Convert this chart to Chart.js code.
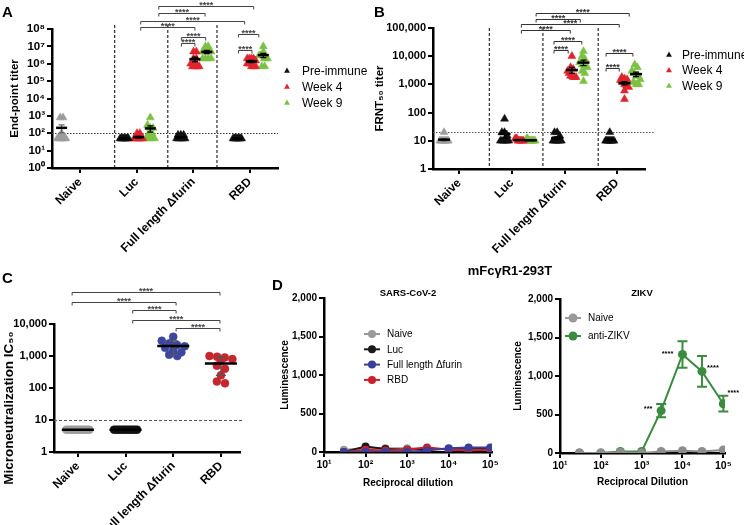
<!DOCTYPE html>
<html lang="es">
<head>
<meta charset="utf-8">
<title>Títulos de anticuerpos</title>
<script src="https://cdn.jsdelivr.net/npm/chart.js@4.4.0/dist/chart.umd.min.js"></script>
<style>
  html, body { margin: 0; padding: 0; background: #fff; }
  #lienzo { position: relative; width: 744px; height: 525px; overflow: hidden; font-family: "Liberation Sans", Arial, sans-serif; }
  #lienzo canvas { position: absolute; }
  #tituloD { position: absolute; left: 440px; top: 263px; width: 140px; text-align: center; font-weight: bold; font-size: 13px; line-height: 15px; }
</style>
</head>
<body>
<div id="lienzo">
  <canvas id="panelA" width="372" height="270" style="left:0;top:0"></canvas>
  <canvas id="panelB" width="372" height="270" style="left:372px;top:0"></canvas>
  <canvas id="panelC" width="250" height="263" style="left:0;top:262px"></canvas>
  <canvas id="panelD1" width="255" height="263" style="left:250px;top:262px"></canvas>
  <canvas id="panelD2" width="249" height="263" style="left:495px;top:262px"></canvas>
  <div id="tituloD">mFcγR1-293T</div>
</div>
<script>
// ---------------- Datos ----------------
const grupos = ['Naive', 'Luc', 'Full length Δfurin', 'RBD'];
const nombresSerie = ['Pre-immune', 'Week 4', 'Week 9'];

// Panel A: título de punto final (Luc, Full length, RBD)
const ticksA = [1, 10, 100, 1e3, 1e4, 1e5, 1e6, 1e7, 1e8];
const etiquetasA = ['10⁰', '10¹', '10²', '10³', '10⁴', '10⁵', '10⁶', '10⁷', '10⁸'];
const aNaive = [800, 800, 100, 50, 50, 50, 50, 50, 50, 50];
const aPreinmune = [
    [50, 50, 50, 50, 50, 50, 50, 50, 50, 50],
    [80, 80, 80, 50, 50, 50, 50, 50, 50, 50],
    [50, 50, 50, 50, 50, 50, 50, 50, 50, 50]
];
const aSemana4 = [
    [100, 100, 50, 50, 50, 50, 50, 50, 50, 50],
    [5e6, 5e6, 2e6, 2e6, 1e6, 7e5, 7e5, 7e5, 7e5, 7e5],
    [2e6, 2e6, 2e6, 2e6, 1.5e6, 1e6, 1e6, 7e5, 7e5, 7e5]
];
const aSemana9 = [
    [800, 300, 200, 200, 100, 100, 50, 50, 50, 50],
    [1e7, 1e7, 5e6, 5e6, 5e6, 5e6, 2e6, 2e6, 2e6, 2e6],
    [1e7, 5e6, 3e6, 3e6, 3e6, 2e6, 2e6, 2e6, 7e5, 7e5]
];
const aCorte = 100;

// Panel B: FRNT50
const ticksB = [1, 10, 100, 1000, 10000, 100000];
const etiquetasB = ['1', '10', '100', '1,000', '10,000', '100,000'];
const bNaive = [20, 10, 10, 10, 10, 10, 10, 10, 10, 10];
const bPreinmune = [
    [60, 20, 20, 15, 10, 10, 10, 10, 10, 10],
    [20, 20, 15, 10, 10, 10, 10, 10, 10, 10],
    [20, 10, 10, 10, 10, 10, 10, 10, 10, 10]
];
const bSemana4 = [
    [12, 12, 12, 10, 10, 10, 10, 10, 10, 10],
    [10000, 4000, 3500, 3000, 2500, 2000, 2000, 1800, 1800, 1800],
    [1800, 1600, 1500, 1400, 1200, 1000, 900, 800, 600, 300]
];
const bSemana9 = [
    [12, 12, 10, 10, 10, 10, 10, 10, 10, 10],
    [15000, 10000, 8000, 6000, 5000, 4500, 4000, 3000, 2500, 1300],
    [5000, 4000, 3000, 2500, 2000, 2000, 1500, 1200, 1000, 1000]
];
const bCorte = 20;

// Panel C: microneutralización IC50
const ticksC = [1, 10, 100, 1000, 10000];
const etiquetasC = ['1', '10', '100', '1,000', '10,000'];
const cNaive = [5, 5, 5, 5, 5, 5, 5, 5, 5, 5];
const cLuc = [5, 5, 5, 5, 5, 5, 5, 5, 5, 5];
const cFull = [4000, 3000, 2500, 2200, 2000, 1800, 1500, 1300, 1100, 1000];
const cRbd = [1000, 950, 900, 800, 700, 500, 400, 250, 160, 140];
const cCorte = 10;

// Panel D: luminiscencia vs dilución recíproca
const diluciones = [30, 100, 300, 1000, 3000, 10000, 30000, 100000];
const ticksDil = [10, 100, 1000, 10000, 100000];
const etiquetasDil = ['10¹', '10²', '10³', '10⁴', '10⁵'];
const ticksLum = [0, 500, 1000, 1500, 2000];
const etiquetasLum = ['0', '500', '1,000', '1,500', '2,000'];
const sarsNaive = [30, 50, 50, 50, 40, 40, 40, 40];
const sarsLuc = [0, 70, 40, 30, 40, 40, 50, 50];
const sarsFull = [0, 0, 0, 0, 20, 50, 60, 60];
const sarsRbd = [0, 30, 20, 30, 60, 30, 20, 30];
const zikvNaive = [0, 0, 10, 0, 20, 30, 20, 40];
const zikvAnti = [0, 0, 20, 20, 550, 1280, 1060, 640];
const zikvSem = [0, 0, 0, 0, 85, 172, 200, 102];
const zikvSignif = ['', '', '', '', '***', '****', '****', '****'];

// ---------------- Estilo ----------------
const fuente = '"Liberation Sans", Arial, sans-serif';
const NEGRO = '#111111', ROJO = '#e0242c', VERDE = '#7bc143', GRIS = '#9c9c9c';
const AZUL_C = '#3d479f', ROJO_C = '#c5272f';
const GRIS_D = '#9a9a9a', NEGRO_D = '#1a1a1a', AZUL_D = '#3a3f9b', ROJO_D = '#c8212e', VERDE_D = '#3b8b3e';
const coloresSerie = [NEGRO, ROJO, VERDE];

Chart.defaults.font.family = fuente;
Chart.defaults.color = '#000';
Chart.defaults.animation = false;

function media(a) { return a.reduce((s, v) => s + v, 0) / a.length; }
function desviacion(a) {
    const m = media(a);
    return Math.sqrt(a.reduce((s, v) => s + (v - m) * (v - m), 0) / (a.length - 1));
}

// Reparte horizontalmente los puntos con valores parecidos (como un enjambre)
function dispersar(valores, centro, esp) {
    const cajas = {};
    valores.forEach((v, i) => {
        const k = Math.round(Math.log10(v) * esp.porDecada);
        (cajas[k] = cajas[k] || []).push(i);
    });
    const xs = [];
    Object.values(cajas).forEach(idx => {
        const m = idx.length;
        const paso = m > 1 ? Math.min(esp.paso, esp.anchoMax / (m - 1)) : 0;
        idx.forEach((i, j) => { xs[i] = centro + (j - (m - 1) / 2) * paso; });
    });
    return valores.map((v, i) => ({ x: xs[i], y: v }));
}

const bordeEje = { display: true, color: '#000', width: 2.5 };
const rejillaEje = { drawOnChartArea: false, color: '#000', lineWidth: 2, tickLength: 5 };

function ejeCategorias(max, tam, altura) {
    return {
        type: 'linear', min: -0.5, max: max,
        afterBuildTicks: s => { s.ticks = grupos.map((g, i) => ({ value: i })); },
        afterFit: s => { s.height = altura; },
        ticks: {
            autoSkip: false, minRotation: 45, maxRotation: 45, padding: 2,
            font: { size: tam, weight: 'bold' }, callback: (v, i) => grupos[i]
        },
        grid: rejillaEje, border: bordeEje
    };
}

function ejeLog(min, max, valores, etiquetas, ancho, titulo, tamTitulo, padTitulo, tamTick) {
    return {
        type: 'logarithmic', min: min, max: max,
        afterBuildTicks: s => { s.ticks = valores.map(v => ({ value: v })); },
        afterFit: s => { s.width = ancho; },
        ticks: { autoSkip: false, padding: 2, font: { size: tamTick, weight: 'bold' }, callback: (v, i) => etiquetas[i] },
        grid: rejillaEje, border: bordeEje,
        title: { display: !!titulo, text: titulo, font: { size: tamTitulo, weight: 'bold' }, padding: { top: padTitulo, bottom: 0 } }
    };
}

function ejeLuminiscencia(ancho, padTitulo) {
    return {
        type: 'linear', min: 0, max: 2000,
        afterBuildTicks: s => { s.ticks = ticksLum.map(v => ({ value: v })); },
        afterFit: s => { s.width = ancho; },
        ticks: { autoSkip: false, padding: 2, font: { size: 10, weight: 'bold' }, callback: (v, i) => etiquetasLum[i] },
        grid: rejillaEje, border: bordeEje,
        title: { display: true, text: 'Luminescence', font: { size: 10, weight: 'bold' }, padding: { top: padTitulo, bottom: 0 } }
    };
}

function ejeDilucion(titulo, altura, padTitulo) {
    return {
        type: 'logarithmic', min: 10, max: 110000,
        afterBuildTicks: s => { s.ticks = ticksDil.map(v => ({ value: v })); },
        afterFit: s => { s.height = altura; },
        ticks: { autoSkip: false, minRotation: 0, maxRotation: 0, padding: 2, font: { size: 10.5, weight: 'bold' }, callback: (v, i) => etiquetasDil[i] },
        grid: rejillaEje, border: bordeEje,
        title: { display: true, text: titulo, font: { size: 10, weight: 'bold' }, padding: { top: 0, bottom: padTitulo } }
    };
}

// Extras que Chart.js no dibuja solo: separadores, medias, corchetes, leyendas...
const extrasPorPanel = {};

function dibujarMarcador(ctx, estilo, x, y, r) {
    ctx.beginPath();
    if (estilo === 'triangulo') {
        ctx.moveTo(x, y - r);
        ctx.lineTo(x + r * 0.866, y + r * 0.5);
        ctx.lineTo(x - r * 0.866, y + r * 0.5);
        ctx.closePath();
    } else {
        ctx.arc(x, y, r, 0, Math.PI * 2);
    }
    ctx.fill();
}

const extras = {
    id: 'extras',
    beforeDatasetsDraw(chart) {
        const cfg = extrasPorPanel[chart.canvas.id];
        if (!cfg) return;
        const { ctx, chartArea: area, scales: { x, y } } = chart;
        ctx.save();
        ctx.strokeStyle = '#000';
        ctx.lineWidth = 1;
        (cfg.separadores || []).forEach(s => {
            const px = x.getPixelForValue(s);
            ctx.setLineDash([3, 2]);
            ctx.beginPath(); ctx.moveTo(px, cfg.topeSeparador); ctx.lineTo(px, area.bottom); ctx.stroke();
        });
        if (cfg.corte) {
            const py = Math.round(y.getPixelForValue(cfg.corte.valor)) + 0.5;
            ctx.setLineDash(cfg.corte.guion);
            ctx.strokeStyle = cfg.corte.color;
            ctx.beginPath(); ctx.moveTo(area.left, py); ctx.lineTo(area.right + cfg.corte.extra, py); ctx.stroke();
        }
        ctx.setLineDash([]);
        if (cfg.errores) {
            const e = cfg.errores;
            ctx.strokeStyle = e.color; ctx.lineWidth = 2;
            e.valores.forEach((v, i) => {
                if (!e.sem[i]) return;
                const px = x.getPixelForValue(diluciones[i]);
                const pa = y.getPixelForValue(v + e.sem[i]);
                const pb = y.getPixelForValue(v - e.sem[i]);
                ctx.beginPath();
                ctx.moveTo(px, pa); ctx.lineTo(px, pb);
                ctx.moveTo(px - e.tapa, pa); ctx.lineTo(px + e.tapa, pa);
                ctx.moveTo(px - e.tapa, pb); ctx.lineTo(px + e.tapa, pb);
                ctx.stroke();
            });
        }
        ctx.restore();
    },
    afterDatasetsDraw(chart) {
        const cfg = extrasPorPanel[chart.canvas.id];
        if (!cfg) return;
        const { ctx, scales: { x, y } } = chart;
        ctx.save();
        (cfg.resumen || []).forEach(r => {
            const m = media(r.valores);
            const sd = desviacion(r.valores);
            const e = r.tipo === 'sd' ? sd : sd / Math.sqrt(r.valores.length);
            const px = x.getPixelForValue(r.x);
            const pm = y.getPixelForValue(m);
            if (e > 0) {
                const pa = y.getPixelForValue(m + e);
                const pb = y.getPixelForValue(Math.max(m - e, y.min));
                ctx.strokeStyle = r.colorError; ctx.lineWidth = 1.3;
                ctx.beginPath();
                ctx.moveTo(px, pa); ctx.lineTo(px, pb);
                ctx.moveTo(px - r.tapa, pa); ctx.lineTo(px + r.tapa, pa);
                ctx.moveTo(px - r.tapa, pb); ctx.lineTo(px + r.tapa, pb);
                ctx.stroke();
            }
            ctx.strokeStyle = '#000'; ctx.lineWidth = 2.5;
            ctx.beginPath(); ctx.moveTo(px - r.semiancho, pm); ctx.lineTo(px + r.semiancho, pm); ctx.stroke();
        });
        ctx.restore();
    },
    afterDraw(chart) {
        const cfg = extrasPorPanel[chart.canvas.id];
        if (!cfg) return;
        const { ctx, scales: { x, y } } = chart;
        ctx.save();
        // corchetes de significancia
        (cfg.corchetes || []).forEach(c => {
            const x1 = x.getPixelForValue(c.desde), x2 = x.getPixelForValue(c.hasta);
            const yy = c.y + 0.5;
            ctx.strokeStyle = cfg.colorCorchete; ctx.lineWidth = 1;
            ctx.beginPath();
            ctx.moveTo(x1, yy + 3); ctx.lineTo(x1, yy); ctx.lineTo(x2, yy); ctx.lineTo(x2, yy + 3);
            ctx.stroke();
            ctx.fillStyle = cfg.colorCorchete;
            ctx.font = 'bold 9px ' + fuente;
            ctx.textAlign = 'center'; ctx.textBaseline = 'alphabetic';
            ctx.fillText('****', (x1 + x2) / 2, c.y + 1.5);
        });
        // estrellas junto a los puntos (ZIKV)
        if (cfg.estrellas) {
            const est = cfg.estrellas;
            ctx.fillStyle = '#000';
            ctx.font = 'bold 7.5px ' + fuente;
            ctx.textAlign = 'center'; ctx.textBaseline = 'alphabetic';
            est.textos.forEach((t, i) => {
                if (!t) return;
                const px = x.getPixelForValue(diluciones[i]) + est.desplaz[i][0];
                const py = y.getPixelForValue(est.valores[i]) + est.desplaz[i][1];
                ctx.fillText(t, px, py + 4);
            });
        }
        // leyenda
        if (cfg.leyenda) {
            const l = cfg.leyenda;
            ctx.font = l.fuente;
            ctx.textAlign = 'left'; ctx.textBaseline = 'middle';
            l.items.forEach((it, i) => {
                const py = l.y + i * l.dy;
                if (l.linea) {
                    ctx.strokeStyle = it.color; ctx.lineWidth = 2;
                    ctx.beginPath(); ctx.moveTo(l.x - l.linea, py); ctx.lineTo(l.x + l.linea, py); ctx.stroke();
                }
                ctx.fillStyle = it.color;
                dibujarMarcador(ctx, l.estilo, l.x, py, l.radio);
                ctx.fillStyle = '#000';
                ctx.fillText(it.texto, l.xTexto, py + 0.5);
            });
        }
        // título Y manual
        if (cfg.tituloY) {
            const t = cfg.tituloY;
            ctx.translate(t.x, t.y);
            ctx.rotate(-Math.PI / 2);
            ctx.font = t.fuente; ctx.fillStyle = '#000';
            ctx.textAlign = 'center'; ctx.textBaseline = 'middle';
            ctx.fillText(t.texto, 0, 0);
            ctx.setTransform(1, 0, 0, 1, 0, 0);
        }
        // subtítulo
        if (cfg.subtitulo) {
            ctx.font = 'bold 9.5px ' + fuente; ctx.fillStyle = '#000';
            ctx.textAlign = 'center'; ctx.textBaseline = 'alphabetic';
            ctx.fillText(cfg.subtitulo.texto, cfg.subtitulo.x, cfg.subtitulo.y);
        }
        // letra del panel
        if (cfg.letra) {
            ctx.font = 'bold 15px ' + fuente; ctx.fillStyle = '#000';
            ctx.textAlign = 'left'; ctx.textBaseline = 'alphabetic';
            ctx.fillText(cfg.letra.texto, cfg.letra.x, cfg.letra.y);
        }
        ctx.restore();
    }
};

function triangulos(label, puntos, color) {
    return {
        label, data: puntos, showLine: false, pointStyle: 'triangle', pointRadius: 4.6,
        pointHoverRadius: 4.6, backgroundColor: color, borderColor: color, borderWidth: 0.5
    };
}

function circulos(label, puntos, color, radio) {
    return {
        label, data: puntos, showLine: false, pointStyle: 'circle', pointRadius: radio,
        pointHoverRadius: radio, backgroundColor: color, borderColor: color, borderWidth: 0.5
    };
}

// Arma los conjuntos de A y B a partir de las series por grupo
function armarTitulos(naive, xNaive, series, despl, esp, semiancho) {
    const ds = [triangulos('Naive', dispersar(naive, xNaive, esp), GRIS)];
    const resumen = [{ x: xNaive, valores: naive, tipo: 'sem', semiancho, tapa: 3, colorError: '#666' }];
    series.forEach((serie, s) => {
        serie.forEach((vals, g) => {
            const cx = g + 1 + despl[s];
            ds.push(triangulos(nombresSerie[s], dispersar(vals, cx, esp), coloresSerie[s]));
            resumen.push({ x: cx, valores: vals, tipo: 'sem', semiancho, tapa: 3, colorError: '#000' });
        });
    });
    return { ds, resumen };
}

const opcionesBase = (padding, escalas) => ({
    responsive: false, animation: false, devicePixelRatio: 1,
    layout: { padding },
    plugins: { legend: { display: false }, tooltip: { enabled: false } },
    scales: escalas
});

const leyendaTitulos = (x, xTexto, y, dy) => ({
    x, xTexto, y, dy, estilo: 'triangulo', radio: 3.4, fuente: '12px ' + fuente,
    items: nombresSerie.map((t, i) => ({ texto: t, color: coloresSerie[i] }))
});

// ---------------- Panel A ----------------
const espA = { paso: 0.05, anchoMax: 0.15, porDecada: 3 };
const datosA = armarTitulos(aNaive, -0.33, [aPreinmune, aSemana4, aSemana9], [-0.22, 0.03, 0.24], espA, 5.5);
extrasPorPanel.panelA = {
    letra: { texto: 'A', x: 2, y: 17 },
    separadores: [0.61, 1.55, 2.42], topeSeparador: 25,
    corte: { valor: aCorte, guion: [1.5, 1.5], color: '#333', extra: 0 },
    resumen: datosA.resumen,
    colorCorchete: '#444',
    corchetes: [
        { desde: 1.39, hasta: 3.07, y: 6 },
        { desde: 1.39, hasta: 2.21, y: 13 },
        { desde: 1.07, hasta: 2.91, y: 21 },
        { desde: 1.07, hasta: 2.03, y: 27 },
        { desde: 1.79, hasta: 2.22, y: 37 },
        { desde: 1.79, hasta: 2.03, y: 43 },
        { desde: 2.80, hasta: 3.16, y: 34 },
        { desde: 2.80, hasta: 3.04, y: 50 }
    ],
    leyenda: leyendaTitulos(287, 302, 71, 16)
};
new Chart(document.getElementById('panelA'), {
    type: 'scatter',
    data: { datasets: datosA.ds },
    options: opcionesBase({ left: 0, top: 29, right: 94, bottom: 0 }, {
        x: ejeCategorias(3.5, 12, 102),
        y: ejeLog(1, 1e8, ticksA, etiquetasA, 52, 'End-point titer', 11.5, 8, 11.5)
    }),
    plugins: [extras]
});

// ---------------- Panel B ----------------
const espB = { paso: 0.05, anchoMax: 0.16, porDecada: 3 };
const datosB = armarTitulos(bNaive, -0.29, [bPreinmune, bSemana4, bSemana9], [-0.14, 0.14, 0.36], espB, 6);
extrasPorPanel.panelB = {
    letra: { texto: 'B', x: 2, y: 17 },
    separadores: [0.57, 1.59, 2.64], topeSeparador: 28,
    corte: { valor: bCorte, guion: [1.5, 1.5], color: '#555', extra: 10 },
    resumen: datosB.resumen,
    colorCorchete: '#333',
    corchetes: [
        { desde: 1.46, hasta: 3.23, y: 13 },
        { desde: 1.46, hasta: 2.30, y: 19 },
        { desde: 1.18, hasta: 3.04, y: 24 },
        { desde: 1.18, hasta: 2.11, y: 30 },
        { desde: 1.80, hasta: 2.33, y: 41 },
        { desde: 1.80, hasta: 2.07, y: 50 },
        { desde: 2.79, hasta: 3.30, y: 53 },
        { desde: 2.79, hasta: 3.04, y: 68 }
    ],
    leyenda: leyendaTitulos(297, 310, 55, 15.5)
};
new Chart(document.getElementById('panelB'), {
    type: 'scatter',
    data: { datasets: datosB.ds },
    options: opcionesBase({ left: 0, top: 28, right: 99, bottom: 0 }, {
        x: ejeCategorias(3.53, 12, 101),
        y: ejeLog(1, 1e5, ticksB, etiquetasB, 61, 'FRNT₅₀ titer', 11.5, 1, 11)
    }),
    plugins: [extras]
});

// ---------------- Panel C ----------------
const espC = { paso: 0.17, anchoMax: 0.48, porDecada: 5 };
const seriesC = [
    { vals: cNaive, color: GRIS },
    { vals: cLuc, color: NEGRO },
    { vals: cFull, color: AZUL_C },
    { vals: cRbd, color: ROJO_C }
];
extrasPorPanel.panelC = {
    letra: { texto: 'C', x: 2, y: 21 },
    corte: { valor: cCorte, guion: [3, 2], color: '#555', extra: 3 },
    resumen: seriesC.map((s, g) => ({ x: g, valores: s.vals, tipo: 'sd', semiancho: 16, tapa: 5, colorError: '#555' })),
    colorCorchete: '#444',
    corchetes: [
        { desde: -0.12, hasta: 2.98, y: 30 },
        { desde: -0.12, hasta: 2.06, y: 40 },
        { desde: 1.15, hasta: 2.06, y: 48 },
        { desde: 1.15, hasta: 2.98, y: 58 },
        { desde: 2.06, hasta: 2.98, y: 66 }
    ],
    tituloY: { texto: 'Microneutralization IC₅₀', x: 9, y: 146, fuente: 'bold 13.5px ' + fuente }
};
new Chart(document.getElementById('panelC'), {
    type: 'scatter',
    data: { datasets: seriesC.map((s, g) => circulos(grupos[g], dispersar(s.vals, g, espC), s.color, 4)) },
    options: opcionesBase({ left: 0, top: 62, right: 10, bottom: 0 }, {
        x: ejeCategorias(3.4, 12, 73),
        y: ejeLog(1, 1e4, ticksC, etiquetasC, 54, '', 12, 0, 11)
    }),
    plugins: [extras]
});

// ---------------- Panel D (SARS-CoV-2) ----------------
const serieLinea = (label, valores, color, radio, orden) => ({
    label, data: diluciones.map((d, i) => ({ x: d, y: valores[i] })), showLine: true,
    borderColor: color, backgroundColor: color, borderWidth: 2, pointRadius: radio,
    pointHoverRadius: radio, pointBorderWidth: 0, order: orden
});
extrasPorPanel.panelD1 = {
    letra: { texto: 'D', x: 22, y: 28 },
    subtitulo: { texto: 'SARS-CoV-2', x: 158, y: 34 },
    leyenda: {
        x: 122, xTexto: 137, y: 72, dy: 15.3, estilo: 'circulo', radio: 4, linea: 8, fuente: '10px ' + fuente,
        items: [
            { texto: 'Naive', color: GRIS_D },
            { texto: 'Luc', color: NEGRO_D },
            { texto: 'Full length Δfurin', color: AZUL_D },
            { texto: 'RBD', color: ROJO_D }
        ]
    }
};
new Chart(document.getElementById('panelD1'), {
    type: 'scatter',
    data: {
        datasets: [
            serieLinea('Naive', sarsNaive, GRIS_D, 4, 3),
            serieLinea('Luc', sarsLuc, NEGRO_D, 4, 2),
            serieLinea('Full length Δfurin', sarsFull, AZUL_D, 4, 0),
            serieLinea('RBD', sarsRbd, ROJO_D, 4, 1)
        ]
    },
    options: opcionesBase({ left: 0, top: 36, right: 13, bottom: 0 }, {
        x: ejeDilucion('Reciprocal dilution', 73, 36),
        y: ejeLuminiscencia(74, 29)
    }),
    plugins: [extras]
});

// ---------------- Panel D (ZIKV) ----------------
extrasPorPanel.panelD2 = {
    subtitulo: { texto: 'ZIKV', x: 147, y: 34 },
    errores: { valores: zikvAnti, sem: zikvSem, color: VERDE_D, tapa: 5 },
    estrellas: { valores: zikvAnti, textos: zikvSignif, desplaz: [[0, 0], [0, 0], [0, 0], [0, 0], [-13, -4], [-15, -2], [11, -5], [10, -13]] },
    leyenda: {
        x: 78, xTexto: 93, y: 56, dy: 18, estilo: 'circulo', radio: 4.5, linea: 8, fuente: '10px ' + fuente,
        items: [
            { texto: 'Naive', color: GRIS_D },
            { texto: 'anti-ZIKV', color: VERDE_D }
        ]
    }
};
new Chart(document.getElementById('panelD2'), {
    type: 'scatter',
    data: {
        datasets: [
            serieLinea('Naive', zikvNaive, '#8d8d8d', 4.5, 0),
            serieLinea('anti-ZIKV', zikvAnti, VERDE_D, 4.5, 1)
        ]
    },
    options: opcionesBase({ left: 0, top: 37, right: 19, bottom: 0 }, {
        x: ejeDilucion('Reciprocal Dilution', 72, 37),
        y: ejeLuminiscencia(65, 17)
    }),
    plugins: [extras]
});
</script>
</body>
</html>
